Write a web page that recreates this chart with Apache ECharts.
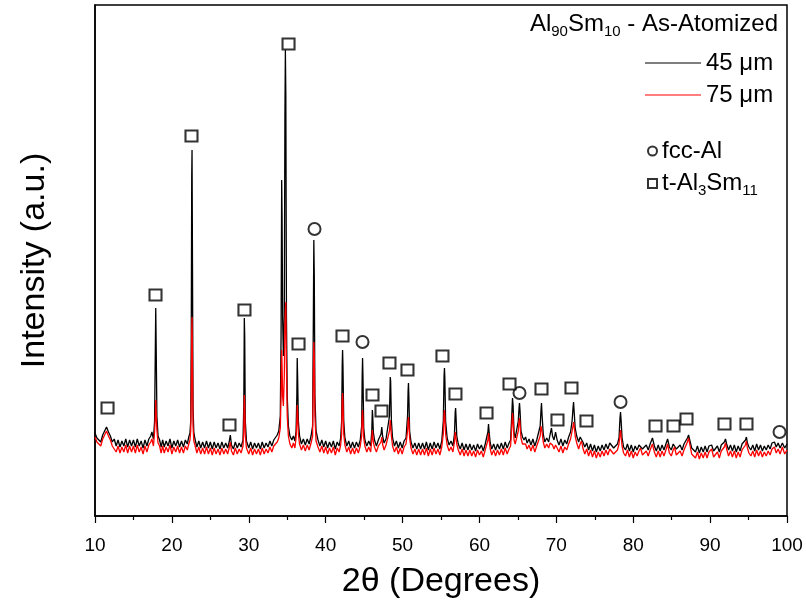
<!DOCTYPE html>
<html><head><meta charset="utf-8">
<script src="https://cdn.jsdelivr.net/npm/echarts@6/dist/echarts.min.js"></script>
<style>html,body{margin:0;padding:0;background:#fff}#c{width:806px;height:610px}</style>
</head><body><div id="c"></div>
<script>
// 2-theta positions (degrees)
const twoTheta = [
10,10.25,10.5,10.75,11,11.25,11.5,11.75,12,12.25,
12.5,12.75,13,13.25,13.5,13.75,14,14.25,14.5,14.75,
15,15.25,15.5,15.75,16,16.25,16.5,16.75,17,17.25,
17.4,17.6,17.75,17.85,17.9,17.95,18.05,18.2,18.4,18.6,
18.8,19,19.25,19.5,19.75,20,20.25,20.5,20.75,21,
21.25,21.5,21.75,22,22.2,22.35,22.45,22.52,22.58,22.62,
22.68,22.75,22.85,23,23.25,23.5,23.75,24,24.25,24.5,
24.75,25,25.25,25.5,25.75,26,26.25,26.5,26.75,27,
27.25,27.45,27.6,27.75,28,28.25,28.5,28.75,29,29.25,
29.35,29.42,29.47,29.55,29.7,30,30.25,30.5,30.75,31,
31.25,31.5,31.75,32,32.25,32.5,32.75,33,33.25,33.5,
33.7,33.9,34.1,34.2,34.28,34.33,34.4,34.5,34.62,34.7,
34.76,34.82,34.9,35,35.15,35.35,35.6,35.8,36,36.15,
36.25,36.3,36.35,36.45,36.6,36.85,37.1,37.35,37.6,37.85,
38.1,38.3,38.4,38.46,38.52,38.6,38.75,39,39.25,39.5,
39.75,40,40.25,40.5,40.75,41,41.25,41.5,41.75,41.95,
42.08,42.15,42.2,42.25,42.35,42.5,42.75,43,43.25,43.5,
43.75,44,44.25,44.5,44.68,44.75,44.8,44.85,44.95,45.1,
45.35,45.6,45.85,46,46.07,46.12,46.2,46.35,46.6,46.85,
47.05,47.2,47.3,47.4,47.6,47.85,48.1,48.3,48.4,48.45,
48.55,48.7,48.95,49.2,49.45,49.7,49.95,50.2,50.45,50.65,
50.72,50.77,50.82,50.92,51.1,51.35,51.6,51.85,52.1,52.35,
52.6,52.85,53.1,53.35,53.6,53.85,54.1,54.35,54.6,54.85,
55.1,55.3,55.4,55.45,55.5,55.6,55.8,56.05,56.3,56.55,
56.75,56.85,56.9,56.95,57.05,57.25,57.5,57.75,58,58.25,
58.5,58.75,59,59.25,59.5,59.75,60,60.25,60.5,60.75,
61,61.1,61.18,61.26,61.4,61.6,61.85,62.1,62.35,62.6,
62.85,63.1,63.35,63.6,63.85,64.05,64.2,64.3,64.38,64.5,
64.65,64.85,65.05,65.15,65.21,65.28,65.4,65.6,65.8,66,
66.2,66.45,66.7,66.95,67.2,67.45,67.7,67.9,68,68.07,
68.15,68.3,68.5,68.75,69,69.2,69.37,69.5,69.7,69.9,
70.1,70.35,70.6,70.85,71.1,71.35,71.6,71.85,72.05,72.17,
72.24,72.32,72.45,72.65,72.9,73.1,73.28,73.45,73.7,73.95,
74.2,74.45,74.7,74.95,75.2,75.45,75.7,75.95,76.2,76.45,
76.7,76.95,77.2,77.45,77.7,77.95,78.15,78.28,78.35,78.42,
78.55,78.75,79,79.25,79.5,79.75,80,80.25,80.5,80.75,
80.95,81.2,81.45,81.7,81.95,82.2,82.5,82.75,83,83.25,
83.5,83.75,84,84.25,84.47,84.7,84.95,85.2,85.38,85.6,
85.85,86.1,86.35,86.6,86.85,87.05,87.2,87.35,87.6,87.85,
88.1,88.35,88.6,88.85,89.1,89.35,89.6,89.85,90.2,90.45,
90.7,90.95,91.2,91.45,91.7,91.85,92,92.15,92.4,92.65,
92.9,93.15,93.4,93.65,93.9,94.15,94.4,94.6,94.72,94.85,
95.05,95.3,95.55,95.8,96.05,96.3,96.55,96.8,97.05,97.3,
97.55,97.8,98.05,98.37,98.6,98.85,99.1,99.4,99.7,100
];
// Intensity (a.u.), 45 um powder
const intensity45 = [
83,78,80,74,81,83,89,84,80,74,
77,70,76,69,75,70,77,69,76,70,
76,69,77,70,75,68,76,70,77,80,
84,77,95,170,208,175,100,80,76,69,
76,69,75,70,77,68,75,70,76,69,
75,69,76,72,79,83,95,180,340,366,
250,110,84,77,69,75,68,74,68,75,
68,74,67,74,68,73,67,74,68,73,
68,74,81,71,67,74,68,73,69,76,
110,198,180,95,75,68,74,67,73,68,
73,67,74,68,73,69,75,70,76,78,
81,85,100,180,336,300,200,160,200,400,
466,420,200,120,90,80,76,80,75,85,
120,158,140,95,80,72,77,71,77,72,
80,90,200,276,240,120,85,76,70,76,
69,75,68,74,69,75,67,74,70,78,
95,150,166,150,95,78,70,75,68,74,
68,74,69,76,90,140,158,140,88,76,
70,75,70,85,106,100,84,76,70,76,
76,82,89,80,73,77,78,100,139,135,
95,78,70,75,68,74,68,75,78,100,
125,133,120,85,74,68,73,67,73,67,
73,67,74,66,73,67,74,68,73,67,
75,95,140,148,138,95,78,71,75,70,
82,104,108,100,80,72,67,73,66,72,
66,72,66,71,65,72,67,71,65,72,
72,84,92,84,73,67,72,66,72,67,
73,67,74,68,73,76,100,118,110,84,
78,80,95,108,113,105,85,79,76,79,
73,77,71,77,70,76,78,90,105,113,
100,82,74,78,74,82,88,80,76,84,
76,71,77,70,76,72,79,84,95,108,
114,104,88,80,74,79,81,74,69,73,
66,72,65,71,64,70,65,71,66,72,
67,73,74,68,66,72,78,98,104,96,
78,69,66,72,65,71,64,70,66,71,
73,67,65,71,66,72,78,70,65,71,
65,71,66,72,77,69,66,72,74,67,
65,71,66,72,73,78,81,76,68,70,
64,70,63,69,64,70,64,70,71,65,
64,70,64,71,70,74,77,72,66,71,
65,71,64,70,65,72,72,76,79,73,
69,66,71,65,72,66,71,65,70,66,
71,67,73,74,69,73,68,73,68,72
];
// Intensity (a.u.), 75 um powder
const intensity75 = [
79,74,76,70,77,79,85,80,76,70,
71,64,70,63,69,64,71,63,70,64,
70,63,71,64,69,62,70,64,71,74,
77,70,84,100,116,104,86,73,70,63,
70,63,69,64,71,62,69,64,70,63,
69,63,70,66,72,76,85,120,185,199,
150,90,75,71,63,69,62,68,62,69,
62,68,61,68,62,67,61,68,62,67,
62,68,74,65,61,68,62,67,63,70,
85,121,112,80,68,62,68,61,67,62,
67,61,68,62,67,63,69,64,70,72,
74,78,88,120,166,150,120,110,140,190,
205,214,150,100,80,72,68,73,68,78,
95,111,105,82,72,66,71,65,71,66,
73,80,140,174,160,100,75,69,64,70,
63,69,62,68,63,69,61,68,64,71,
82,115,123,115,82,71,64,69,62,68,
62,68,63,70,80,100,106,98,78,70,
64,69,64,76,86,82,74,69,64,70,
69,74,79,72,66,71,70,85,96,94,
80,70,64,69,62,68,62,69,72,85,
95,99,94,78,68,62,67,61,67,61,
67,61,68,60,67,61,68,62,67,61,
69,82,102,106,100,82,71,65,69,64,
74,84,86,82,72,66,61,67,60,66,
60,66,60,65,59,66,61,65,59,66,
66,76,83,76,67,61,66,60,66,61,
67,61,68,62,67,70,88,103,96,76,
72,73,85,95,98,92,78,72,70,72,
67,71,65,71,64,70,71,80,90,88,
84,74,68,72,68,73,74,71,67,71,
68,64,70,63,69,66,72,77,85,90,
94,90,80,73,67,72,75,68,62,67,
60,66,59,65,58,64,59,65,60,66,
61,67,68,62,60,66,72,82,86,80,
70,63,60,66,59,65,58,64,60,65,
68,61,59,65,60,66,72,64,59,65,
59,65,60,66,72,63,60,66,69,61,
59,65,60,66,68,74,78,72,62,64,
58,64,57,63,58,64,58,64,67,59,
58,64,58,65,65,69,73,67,60,65,
59,65,58,64,59,66,66,71,75,68,
63,60,65,59,66,60,65,59,64,60,
65,61,67,69,63,67,62,69,62,66
];
// Phase markers: t-Al3Sm11 (squares) and fcc-Al (circles)
const squareTheta = [11.63,17.87,22.55,27.49,29.44,35.17,36.47,42.19,46.09,47.26,48.3,50.64,55.19,56.88,60.92,63.91,68.07,70.15,71.97,73.92,82.9,85.24,86.93,91.87,94.73];
const squareY     = [108,221,380,91,206,472,172,180,121,105,153,146,160,122,103,132,127,96,128,95,90,90,97,92,92];
const circleTheta = [38.55,44.79,65.21,78.35,99.03];
const circleY     = [287,174,123,114,84];
// axis
const xMin = 10, xMax = 100, xStep = 10;
const yMin = 0, yMax = 511;
const seriesNames = ['45 μm', '75 μm'];
const phaseNames = ['fcc-Al', 't-Al3Sm11'];

const FONT = "'Liberation Sans', Arial, sans-serif";
const NARROW = "'Liberation Sans Narrow', 'Arial Narrow', 'Liberation Sans', sans-serif";
const sub = {
  n: {fontSize: 24, lineHeight: 24, verticalAlign: 'top', color: '#000', fontFamily: FONT},
  s: {fontSize: 15, lineHeight: 15, padding: [14, 0, 0, 0], color: '#000', fontFamily: FONT}
};

const chart = echarts.init(document.getElementById('c'), null, {renderer: 'canvas'});
chart.setOption({
  animation: false,
  backgroundColor: '#fff',
  grid: {left: 95, right: 19, top: 5, bottom: 94, show: true, borderColor: '#000', borderWidth: 1.5, backgroundColor: 'transparent'},
  xAxis: {
    type: 'value', min: xMin, max: xMax, interval: xStep,
    name: '2θ (Degrees)', nameLocation: 'middle', nameGap: 49,
    nameTextStyle: {fontSize: 34, color: '#000', fontFamily: FONT},
    axisLine: {lineStyle: {color: '#000', width: 1.5}},
    axisTick: {inside: false, length: 7, lineStyle: {color: '#000', width: 1.2}},
    minorTick: {show: true, splitNumber: 2, length: 4, lineStyle: {color: '#000', width: 1.2}},
    axisLabel: {fontSize: 19, color: '#000', margin: 20, fontFamily: NARROW},
    splitLine: {show: false}
  },
  yAxis: {
    type: 'value', min: yMin, max: yMax,
    name: 'Intensity (a.u.)', nameLocation: 'middle', nameGap: 43, nameRotate: 90,
    nameTextStyle: {fontSize: 34, color: '#000', fontFamily: FONT},
    axisLine: {show: true, lineStyle: {color: '#000', width: 1.5}},
    axisTick: {show: false}, axisLabel: {show: false}, splitLine: {show: false}
  },
  legend: [{
    data: seriesNames, orient: 'vertical', left: 640, top: 46, icon: 'rect', itemWidth: 56, itemHeight: 1, itemGap: 8,
    textStyle: {fontSize: 24, color: '#000', fontFamily: FONT}, selectedMode: false
  }, {
    data: phaseNames, orient: 'vertical', left: 642, top: 134, itemWidth: 9, itemHeight: 9, itemGap: 6,
    selectedMode: false,
    formatter: function (name) { return name === 't-Al3Sm11' ? '{n|t-Al}{s|3}{n|Sm}{s|11}' : '{n|' + name + '}'; },
    textStyle: {fontSize: 24, color: '#000', fontFamily: FONT, rich: sub}
  }],
  graphic: [{
    type: 'text', right: 28, top: 10,
    style: {text: '{n|Al}{s|90}{n|Sm}{s|10}{n| - As-Atomized}', rich: sub, fill: '#000'}
  }],
  series: [{
    name: seriesNames[0], type: 'line', data: twoTheta.map((x, i) => [x, intensity45[i]]),
    symbol: 'none', showSymbol: false, lineStyle: {color: '#000', width: 1.3}, itemStyle: {color: '#000'}, z: 2
  }, {
    name: seriesNames[1], type: 'line', data: twoTheta.map((x, i) => [x, intensity75[i]]),
    symbol: 'none', showSymbol: false, lineStyle: {color: '#ff0000', width: 1.3}, itemStyle: {color: '#ff0000'}, z: 3
  }, {
    name: phaseNames[0], type: 'scatter', data: circleTheta.map((x, i) => [x, circleY[i]]),
    symbol: 'emptyCircle', symbolSize: 12, itemStyle: {color: '#000', borderColor: '#000', borderWidth: 1.5}, z: 4
  }, {
    name: phaseNames[1], type: 'scatter', data: squareTheta.map((x, i) => [x, squareY[i]]),
    symbol: 'emptyRect', symbolSize: [12, 11], itemStyle: {color: '#000', borderColor: '#000', borderWidth: 1.5}, z: 4
  }]
});
</script></body></html>
